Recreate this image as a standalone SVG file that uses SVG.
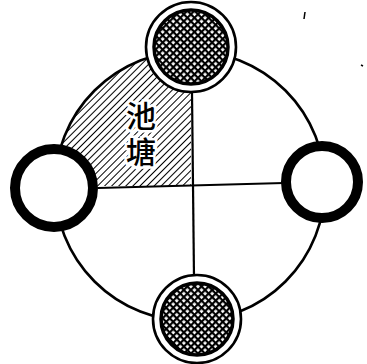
<svg xmlns="http://www.w3.org/2000/svg" width="367" height="364" viewBox="0 0 367 364">
<style>
.ring{fill:none;stroke:#000;stroke-width:2.6}
.line{stroke:#000;stroke-width:2.2;fill:none}
.thick{fill:#fff;stroke:#000;stroke-width:10}
.outer{fill:#fff;stroke:#000;stroke-width:2.6}
.inner{fill:url(#cross);stroke:#000;stroke-width:3.5}
.label{font-family:"Noto Sans CJK SC","Noto Sans CJK JP",sans-serif;font-size:30px;font-weight:500;fill:#000;stroke:#fff;stroke-width:5;paint-order:stroke;writing-mode:vertical-rl;letter-spacing:6px}
</style>
<defs>
<pattern id="hatch" width="5" height="5" patternUnits="userSpaceOnUse" patternTransform="rotate(45)">
<rect width="5" height="5" fill="#fff"/>
<line x1="0" y1="0" x2="0" y2="5" stroke="#000" stroke-width="2"/>
</pattern>
<pattern id="cross" width="5" height="5" patternUnits="userSpaceOnUse" patternTransform="rotate(45)">
<rect width="5" height="5" fill="#000"/>
<rect x="1.2" y="1.2" width="2.8" height="2.8" fill="#fff"/>
</pattern>
</defs>
<rect width="367" height="364" fill="#fff"/>
<g id="pond">
<path d="M191,186 L55,186 A136,136 0 0 1 191,50 Z" fill="url(#hatch)"/>
</g>
<g id="big-circle">
<circle class="ring" cx="190" cy="186" r="135"/>
</g>
<g id="connectors">
<line class="line" x1="98" y1="188" x2="284" y2="183"/>
<line class="line" x1="192" y1="92" x2="194" y2="278"/>
</g>
<g id="label">
<text class="label" x="141" y="101">池塘</text>
</g>
<g id="node-left">
<circle class="thick" cx="54" cy="188" r="39" stroke-width="12"/>
</g>
<g id="node-right">
<circle class="thick" cx="322" cy="182" r="36"/>
</g>
<g id="node-top">
<circle class="outer" cx="191" cy="47" r="45"/>
<circle class="inner" cx="191" cy="47" r="37"/>
</g>
<g id="node-bottom">
<circle class="outer" cx="197" cy="319" r="44"/>
<circle class="inner" cx="197" cy="319" r="36"/>
</g>
<g id="specks">
<path d="M305,12 L304,19" stroke="#000" stroke-width="1.5"/>
<path d="M361,65 L363,66" stroke="#000" stroke-width="1.5"/>
</g>
</svg>
